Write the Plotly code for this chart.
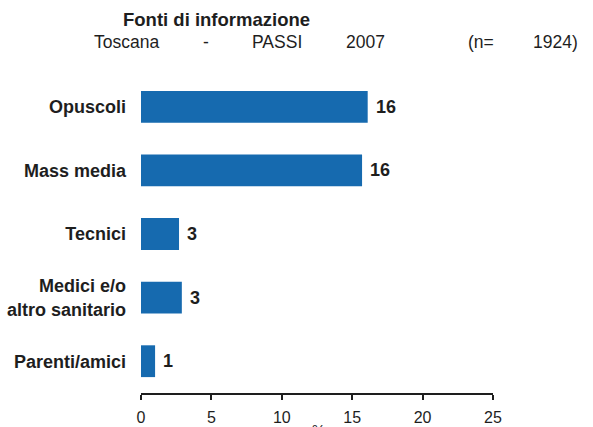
import plotly.graph_objects as go

categories = ["Opuscoli", "Mass media", "Tecnici", "Medici e/o<br>altro sanitario", "Parenti/amici"]
values = [16.1, 15.7, 2.7, 2.9, 1.0]
value_labels = ["16", "16", "3", "3", "1"]
x_ticks = [0, 5, 10, 15, 20, 25]

FONT = "Liberation Sans, Arial, sans-serif"
BLUE = "#166AAF"
INK = "#1e1e1e"

L, R, T, B = 141, 100, 75, 34
W, H = 593, 427
PW, PH = W - L - R, H - T - B


def px_to_paper(px, py):
    return (px - L) / PW, 1 - (py - T) / PH


cat_labels = [f"<b>{c}</b>" for c in categories]

fig = go.Figure(go.Bar(
    y=cat_labels,
    x=values,
    orientation="h",
    marker=dict(color=BLUE, line=dict(width=0)),
    width=0.5,
    hoverinfo="x+y",
))

anns = []
# value labels next to bars
for c, v, t in zip(cat_labels, values, value_labels):
    anns.append(dict(text=f"<b>{t}</b>", x=v, y=c, xref="x", yref="y", showarrow=False,
                     xanchor="left", yanchor="middle", xshift=6,
                     font=dict(size=18, family=FONT, color=INK)))

# title
tx, ty = px_to_paper(121, 19)
anns.append(dict(text="<b>Fonti di informazione</b>", x=tx, y=ty, xref="paper", yref="paper",
                 showarrow=False, xanchor="left", yanchor="middle",
                 font=dict(size=18.5, family=FONT, color=INK)))
# subtitle pieces
for txt, px in [("Toscana", 92), ("-", 201), ("PASSI", 250), ("2007", 344), ("(n=", 466), ("1924)", 531)]:
    bx, by = px_to_paper(px, 42)
    anns.append(dict(text=txt, x=bx, y=by, xref="paper", yref="paper", showarrow=False,
                     xanchor="left", yanchor="middle",
                     font=dict(size=17.5, family=FONT, color=INK)))
# axis title "%" (mostly cut off at the bottom edge in the reference)
px_, py_ = px_to_paper(318, 429)
anns.append(dict(text="%", x=px_, y=py_, xref="paper", yref="paper", showarrow=False,
                 xanchor="center", yanchor="middle",
                 font=dict(size=15, family=FONT, color=INK)))

fig.update_layout(
    width=W, height=H,
    margin=dict(l=L, r=R, t=T, b=B, autoexpand=False),
    paper_bgcolor="white", plot_bgcolor="white",
    showlegend=False,
    font=dict(family=FONT, color=INK),
    xaxis=dict(
        range=[0, 25], tickvals=x_ticks, showgrid=False, zeroline=False,
        showline=True, linecolor=INK, linewidth=1.5,
        ticks="outside", ticklen=5, tickwidth=1.5, tickcolor=INK,
        tickfont=dict(size=16, family=FONT, color=INK),
        ticklabelstandoff=4, automargin=False,
    ),
    yaxis=dict(
        categoryorder="array", categoryarray=cat_labels[::-1],
        range=[-0.5, 4.5], showgrid=False, zeroline=False, showline=False,
        ticks="", ticklabelstandoff=14, automargin=False,
        tickfont=dict(size=18, family=FONT, color=INK),
    ),
    annotations=anns,
)

fig.write_html(
    "out.html",
    config={"displayModeBar": False},
    post_script="document.body.style.margin='0';document.body.style.overflow='hidden';",
)
